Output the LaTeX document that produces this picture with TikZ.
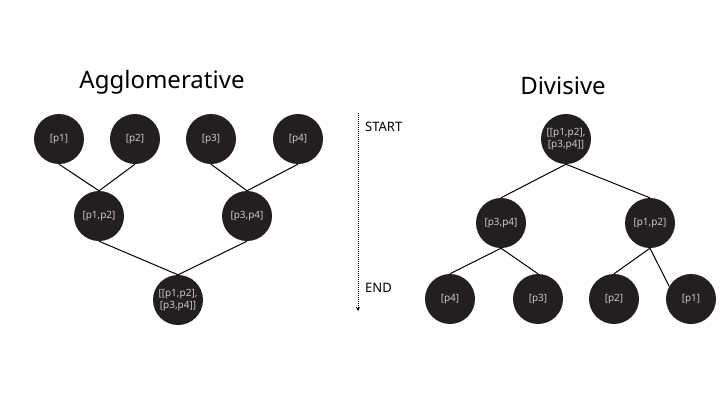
\documentclass[tikz,border=0pt]{standalone}
\usepackage{fontspec}
\setmainfont{Noto Sans}
\usetikzlibrary{arrows.meta}
\definecolor{nodefill}{HTML}{231F20}
\definecolor{nodetext}{HTML}{C8C8C8}
\begin{document}
\begin{tikzpicture}[x=1pt,y=-1pt,
  cnode/.style={circle,fill=nodefill,minimum size=50pt,inner sep=0pt,text=nodetext,
    font=\fontsize{10}{12}\selectfont,align=center},
  edge/.style={draw=black,line width=1pt},
  title/.style={font=\fontsize{24}{28}\selectfont,text=black},
  marker/.style={font=\fontsize{13}{15}\selectfont,anchor=west,inner sep=0pt}]
\useasboundingbox[fill=white] (0,0) rectangle (720,405);
% titles
\node[title] (tA) at (162,82) {Agglomerative};
\node[title] (tD) at (563,86) {Divisive};
% agglomerative
\node[cnode] (a1) at (59,139) {[p1]};
\node[cnode] (a2) at (135,139) {[p2]};
\node[cnode] (a3) at (211,139) {[p3]};
\node[cnode] (a4) at (298,139) {[p4]};
\node[cnode] (a12) at (99,216) {[p1,p2]};
\node[cnode] (a34) at (247,216) {[p3,p4]};
\node[cnode] (ar) at (178,300) {[[p1,p2],\\{}[p3,p4]]};
\draw[edge] (a1.south) -- (a12.north);
\draw[edge] (a2.south) -- (a12.north);
\draw[edge] (a3.south) -- (a34.north);
\draw[edge] (a4.south) -- (a34.north);
\draw[edge] (a12.south) -- (ar.north);
\draw[edge] (a34.south) -- (ar.north);
% arrow
\coordinate (st) at (358,113);
\coordinate (en) at (358,311);
\draw[densely dotted,line width=1pt,-{Stealth[length=4pt,width=4pt]}] (st) -- (en);
\node[marker] (ls) at (365,127) {START};
\node[marker] (le) at (365,288) {END};
% divisive
\node[cnode] (dr) at (566,139) {[[p1,p2],\\{}[p3,p4]]};
\node[cnode] (d34) at (501,223) {[p3,p4]};
\node[cnode] (d12) at (650,223) {[p1,p2]};
\node[cnode] (d4) at (450,299) {[p4]};
\node[cnode] (d3) at (538,299) {[p3]};
\node[cnode] (d2) at (614,299) {[p2]};
\node[cnode] (d1) at (691,299) {[p1]};
\draw[edge] (dr.south) -- (d34.north);
\draw[edge] (dr.south) -- (d12.north);
\draw[edge] (d34.south) -- (d4.north);
\draw[edge] (d34.south) -- (d3.north);
\draw[edge] (d12.south) -- (d2.north);
\draw[edge] (d12.south) -- (d1.150);
\end{tikzpicture}
\end{document}
